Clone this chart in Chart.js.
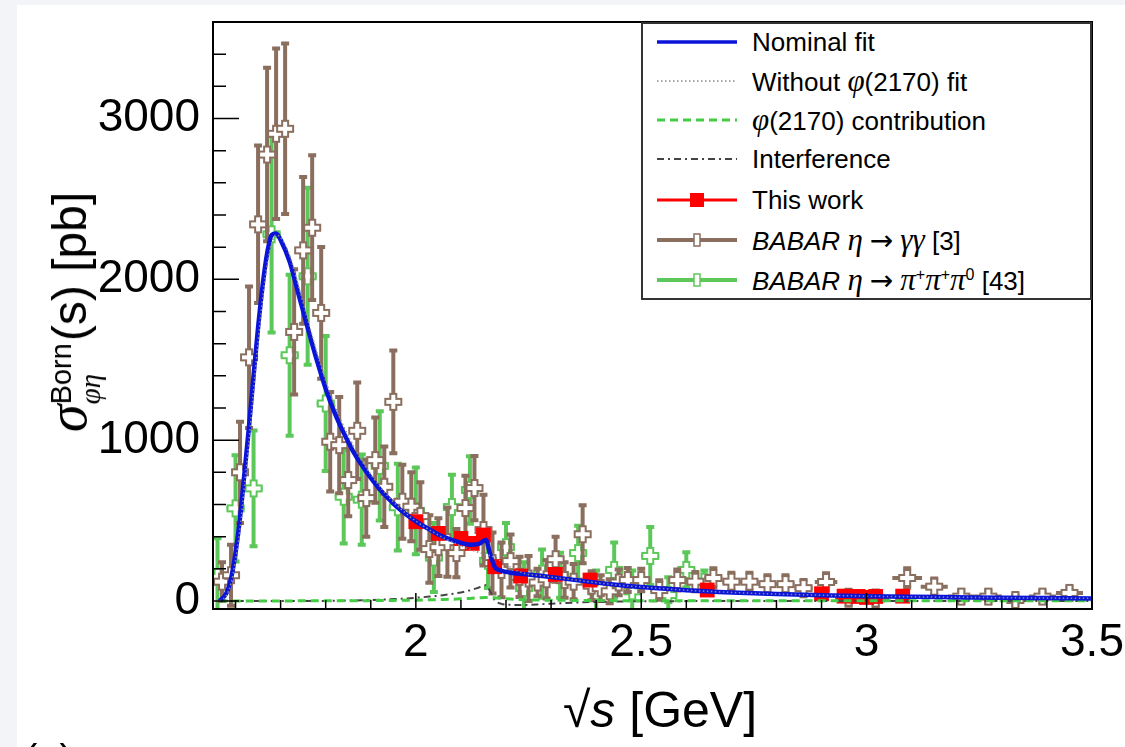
<!DOCTYPE html>
<html>
<head>
<meta charset="utf-8">
<script src="https://cdn.jsdelivr.net/npm/chart.js@4.4.1/dist/chart.umd.min.js"></script>
<style>
html, body { margin: 0; padding: 0; width: 1125px; height: 747px; overflow: hidden; background: #f3f4f7; font-family: 'Liberation Sans', Arial, sans-serif; }
#panel { position: absolute; left: 17px; top: 5px; width: 1108px; height: 742px; background: #fff; }
#chart { position: absolute; left: 0; top: 0; }
#ytitle { position: absolute; left: 70px; top: 312px; transform: translate(-50%, -50%) rotate(-90deg); white-space: nowrap; font-size: 48px; color: #000; }
#ytitle .sig { font-family: 'Liberation Serif', serif; font-style: italic; font-size: 56px; }
#ytitle .ss { display: inline-block; vertical-align: -14px; font-size: 29px; line-height: 29px; margin-right: 2px; }
#ytitle .ss span { display: block; }
#ytitle .g { font-family: 'Liberation Serif', serif; font-style: italic; }
#xtitle { position: absolute; left: 660px; top: 710px; transform: translate(-50%, -50%); white-space: nowrap; font-size: 50px; color: #000; }
#legend { position: absolute; left: 641px; top: 22px; width: 451px; height: 278px; box-sizing: border-box; border: 2px solid #333; background: #fff; }
#legend .row { position: absolute; left: 14px; height: 0; display: flex; align-items: center; white-space: nowrap; font-size: 26px; color: #000; }
#legend svg { margin-right: 15px; }
#legend .g { font-family: 'Liberation Serif', serif; font-style: italic; font-size: 31px; }
#legend .ar { font-family: 'DejaVu Sans', sans-serif; font-size: 28px; margin: 0 7px; }
#legend sup { font-size: 16px; }
#tag { position: absolute; left: 24px; top: 739px; font-size: 40px; line-height: 1; color: #000; }
</style>
</head>
<body>
<div id="panel"></div>
<canvas id="chart" width="1125" height="747"></canvas>
<div id="ytitle"><span class="sig">σ</span><span class="ss"><span>Born</span><span class="g">φη</span></span>(s) [pb]</div>
<div id="xtitle">√<i>s</i> [GeV]</div>
<div id="legend">
  <div class="row" style="top:18px"><svg width="80" height="20"><line x1="0" y1="10" x2="80" y2="10" stroke="#0a14d8" stroke-width="3.5"/></svg><span>Nominal fit</span></div>
  <div class="row" style="top:57px"><svg width="80" height="20"><line x1="0" y1="10" x2="80" y2="10" stroke="#8a8a96" stroke-width="1.5" stroke-dasharray="1.5 2.5"/></svg><span>Without <span class="g">φ</span>(2170) fit</span></div>
  <div class="row" style="top:96px"><svg width="80" height="20"><line x1="0" y1="10" x2="80" y2="10" stroke="#44cc44" stroke-width="3" stroke-dasharray="8 5"/></svg><span><span class="g">φ</span>(2170) contribution</span></div>
  <div class="row" style="top:135px"><svg width="80" height="20"><line x1="0" y1="10" x2="80" y2="10" stroke="#444" stroke-width="2" stroke-dasharray="7 4 2 4"/></svg><span>Interference</span></div>
  <div class="row" style="top:176px"><svg width="80" height="20"><line x1="0" y1="10" x2="80" y2="10" stroke="#ff0000" stroke-width="3"/><rect x="33" y="3" width="14" height="14" fill="#ff0000"/></svg><span>This work</span></div>
  <div class="row" style="top:216px"><svg width="80" height="20"><line x1="0" y1="10" x2="80" y2="10" stroke="#8a6e5e" stroke-width="4"/><rect x="37" y="4" width="6" height="12" fill="#fff" stroke="#8a6e5e" stroke-width="1.5"/></svg><span><i>BABAR</i> <span class="g">η</span><span class="ar">→</span><span class="g">γγ</span> [3]</span></div>
  <div class="row" style="top:256px"><svg width="80" height="20"><line x1="0" y1="10" x2="80" y2="10" stroke="#5dc85a" stroke-width="4"/><rect x="37" y="4" width="6" height="12" fill="#fff" stroke="#5dc85a" stroke-width="1.5"/></svg><span><i>BABAR</i> <span class="g">η</span><span class="ar">→</span><span class="g">π</span><sup>+</sup><span class="g">π</span><sup>+</sup><span class="g">π</span><sup>0</sup> [43]</span></div>
</div>
<div id="tag">(a)</div>
<script>
// axis labels
const xTickLabels = [2, 2.5, 3, 3.5];
const yTickLabels = [0, 1000, 2000, 3000];

// fit curves
const fitX = [1.565, 1.58, 1.59, 1.60, 1.61, 1.62, 1.63, 1.64, 1.65, 1.66,
  1.67, 1.68, 1.69, 1.70, 1.72, 1.74, 1.76, 1.78, 1.80, 1.82,
  1.84, 1.86, 1.88, 1.90, 1.92, 1.94, 1.96, 1.98, 2.00, 2.03,
  2.06, 2.09, 2.12, 2.14, 2.155, 2.165, 2.175, 2.19, 2.21, 2.24,
  2.28, 2.32, 2.36, 2.40, 2.45, 2.50, 2.60, 2.70, 2.80, 2.90,
  3.00, 3.10, 3.20, 3.30, 3.40, 3.50];
const nominalFit = [0, 50, 140, 300, 520, 800, 1090, 1400, 1700, 1960,
  2160, 2275, 2285, 2245, 2110, 1905, 1700, 1500, 1320, 1170,
  1045, 935, 845, 765, 695, 635, 580, 535, 495, 445,
  400, 370, 350, 355, 380, 290, 212, 188, 176, 167,
  155, 142, 128, 114, 99, 87, 67, 53, 43, 36,
  30, 26, 23, 20, 18, 16];
const withoutPhiFit = [0, 35, 110, 250, 450, 720, 1000, 1310, 1610, 1880,
  2090, 2225, 2275, 2260, 2150, 1955, 1750, 1550, 1370, 1215,
  1085, 970, 872, 787, 712, 646, 589, 540, 497, 442,
  394, 354, 320, 302, 290, 282, 272, 245, 210, 172,
  156, 142, 128, 114, 99, 87, 67, 53, 43, 36,
  30, 26, 23, 20, 18, 16];
const phiContribution = [0, 0, 0, 0, 0, 0, 0, 0, 0, 0,
  0, 0, 0, 0, 0, 1, 1, 1, 1, 1,
  2, 2, 2, 2, 3, 3, 4, 4, 5, 7,
  9, 12, 16, 20, 22, 22, 20, 16, 12, 8,
  5, 4, 3, 3, 2, 2, 2, 1, 1, 1,
  1, 1, 1, 1, 1, 1];
const interference = [0, 0, 0, 0, 0, 0, 0, 0, 0, 0,
  0, 0, 0, 0, 0, 0, 0, 0, 0, 1,
  2, 3, 4, 6, 8, 10, 13, 16, 20, 27,
  36, 48, 66, 84, 98, 60, 5, -18, -24, -25,
  -20, -14, -9, -6, -3, -2, -1, 0, 0, 0,
  0, 0, 0, 0, 0, 0];

// This work
const thisWorkX = [2.000, 2.050, 2.100, 2.125, 2.150, 2.175, 2.2324, 2.3094, 2.3864, 2.6464, 2.900, 2.950, 2.981, 3.000, 3.020, 3.080];
const thisWorkY = [493, 420, 389, 358, 410, 213, 155, 165, 130, 68, 45, 30, 28, 22, 28, 30];
const thisWorkErr = [40, 40, 35, 35, 40, 30, 25, 25, 20, 15, 12, 12, 8, 10, 10, 15];

// BABAR eta -> gamma gamma
const babarGgX = [1.57, 1.59, 1.61, 1.63, 1.65, 1.67, 1.69, 1.71, 1.73, 1.75,
  1.77, 1.79, 1.81, 1.83, 1.85, 1.87, 1.89, 1.91, 1.93, 1.95,
  1.97, 1.99, 2.01, 2.03, 2.05, 2.07, 2.09, 2.11, 2.13, 2.15,
  2.17, 2.19, 2.21, 2.23, 2.25, 2.27, 2.29, 2.31, 2.33, 2.35,
  2.37, 2.39, 2.41, 2.43, 2.45, 2.47, 2.50, 2.54, 2.58, 2.62,
  2.66, 2.70, 2.74, 2.78, 2.82, 2.86, 2.91, 2.96, 3.02, 3.09,
  3.15, 3.21, 3.27, 3.33, 3.39, 3.45];
const babarGgY = [120, 160, 800, 1515, 2342, 2776, 2905, 2936, 1673, 2180,
  2321, 1791, 990, 969, 752, 1058, 640, 876, 710, 1238,
  617, 586, 528, 323, 335, 366, 298, 578, 702, 441,
  236, 193, 248, 150, 140, 115, 135, 260, 130, 120,
  415, 95, 80, 60, 115, 130, 130, 68, 130, 120,
  143, 120, 120, 105, 105, 80, 118, 20, 15, 143,
  89, 27, 27, 6, 27, 50];
const babarGgErr = [120, 190, 315, 440, 490, 540, 530, 530, 390, 456,
  450, 410, 310, 300, 225, 300, 240, 265, 250, 320,
  230, 215, 210, 210, 180, 215, 150, 200, 200, 220,
  190, 170, 165, 125, 140, 85, 120, 140, 110, 110,
  180, 90, 80, 75, 80, 75, 70, 60, 65, 60,
  60, 55, 55, 55, 55, 50, 55, 50, 50, 60,
  50, 40, 40, 35, 35, 35];
const babarGgXErr = [0.01, 0.01, 0.01, 0.01, 0.01, 0.01, 0.01, 0.01, 0.01, 0.01,
  0.01, 0.01, 0.01, 0.01, 0.01, 0.01, 0.01, 0.01, 0.01, 0.01,
  0.01, 0.01, 0.01, 0.01, 0.01, 0.01, 0.01, 0.01, 0.01, 0.01,
  0.01, 0.01, 0.01, 0.01, 0.01, 0.01, 0.01, 0.01, 0.01, 0.01,
  0.01, 0.01, 0.01, 0.01, 0.01, 0.01, 0.02, 0.02, 0.02, 0.02,
  0.02, 0.02, 0.02, 0.02, 0.02, 0.02, 0.025, 0.03, 0.03, 0.033,
  0.03, 0.03, 0.03, 0.03, 0.03, 0.03];

// BABAR eta -> pi pi pi
const babar3piX = [1.56, 1.60, 1.64, 1.68, 1.72, 1.76, 1.80, 1.84, 1.88, 1.92,
  1.96, 2.00, 2.04, 2.08, 2.12, 2.16, 2.20, 2.24, 2.28, 2.32,
  2.36, 2.40, 2.44, 2.48, 2.52, 2.56, 2.60, 2.64];
const babar3piY = [150, 576, 700, 2280, 1528, 2019, 1228, 648, 630, 840,
  583, 560, 270, 584, 690, 250, 335, 80, 170, 160,
  298, 60, 193, 60, 280, 37, 193, 120];
const babar3piErr = [240, 330, 360, 610, 500, 550, 420, 290, 280, 340,
  270, 270, 215, 200, 210, 170, 150, 160, 150, 140,
  170, 130, 170, 130, 180, 110, 110, 70];
const babar3piXErr = 0.02;

const BLUE = '#0a14d8', BROWN = '#8a6e5e', GREEN = '#5dc85a', RED = '#ff0000';

const toPoints = (xs, ys) => xs.map((x, i) => ({ x: x, y: ys[i] }));

// open cross marker (ROOT style 28)
function openCross(color) {
  const size = 16, arm = 6, c = document.createElement('canvas');
  c.width = c.height = size + 4;
  const g = c.getContext('2d');
  const m = (size + 4) / 2, h = size / 2, w = arm / 2;
  g.beginPath();
  g.moveTo(m - w, m - h); g.lineTo(m + w, m - h); g.lineTo(m + w, m - w); g.lineTo(m + h, m - w);
  g.lineTo(m + h, m + w); g.lineTo(m + w, m + w); g.lineTo(m + w, m + h); g.lineTo(m - w, m + h);
  g.lineTo(m - w, m + w); g.lineTo(m - h, m + w); g.lineTo(m - h, m - w); g.lineTo(m - w, m - w);
  g.closePath();
  g.fillStyle = '#fff'; g.fill();
  g.strokeStyle = color; g.lineWidth = 2; g.stroke();
  return c;
}

// error bars drawn just before each data set's markers
const errorBars = {
  id: 'errorBars',
  beforeDatasetDraw(chart, args) {
    const ds = chart.data.datasets[args.index];
    if (!ds.yErr) return;
    const { ctx, chartArea: a, scales: { x, y } } = chart;
    ctx.save();
    ctx.beginPath();
    ctx.rect(a.left, a.top, a.right - a.left, a.bottom - a.top);
    ctx.clip();
    ctx.strokeStyle = ds.errColor;
    ctx.lineWidth = ds.errWidth;
    ds.data.forEach((p, i) => {
      const xe = Array.isArray(ds.xErr) ? ds.xErr[i] : ds.xErr;
      const px = x.getPixelForValue(p.x), py = y.getPixelForValue(p.y);
      const lo = y.getPixelForValue(p.y - ds.yErr[i]), hi = y.getPixelForValue(p.y + ds.yErr[i]);
      ctx.beginPath();
      ctx.moveTo(px, lo); ctx.lineTo(px, hi);
      if (xe) { ctx.moveTo(x.getPixelForValue(p.x - xe), py); ctx.lineTo(x.getPixelForValue(p.x + xe), py); }
      if (ds.capSize) {
        ctx.moveTo(px - ds.capSize, lo); ctx.lineTo(px + ds.capSize, lo);
        ctx.moveTo(px - ds.capSize, hi); ctx.lineTo(px + ds.capSize, hi);
      }
      ctx.stroke();
    });
    ctx.restore();
  }
};

// ROOT-like frame with ticks pointing inwards
const frameTicks = {
  id: 'frameTicks',
  afterDatasetsDraw(chart) {
    const { ctx, chartArea: a, scales: { x, y } } = chart;
    ctx.save();
    ctx.strokeStyle = '#000';
    ctx.lineWidth = 1.5;
    ctx.beginPath();
    for (let k = 16; k <= 35; k++) {
      const px = x.getPixelForValue(k / 10);
      const len = k % 5 === 0 ? 16 : 9;
      ctx.moveTo(px, a.bottom); ctx.lineTo(px, a.bottom - len);
    }
    for (let k = 0; k <= 17; k++) {
      const py = y.getPixelForValue(k * 200);
      const len = k % 5 === 0 ? 26 : 13;
      ctx.moveTo(a.left, py); ctx.lineTo(a.left + len, py);
    }
    ctx.stroke();
    ctx.lineWidth = 2;
    ctx.strokeRect(a.left, a.top, a.right - a.left, a.bottom - a.top);
    ctx.restore();
  }
};

const tickFont = { family: "'Liberation Sans', Arial, sans-serif", size: 46, lineHeight: 1 };

new Chart(document.getElementById('chart').getContext('2d'), {
  type: 'scatter',
  data: {
    datasets: [
      {
        label: 'BABAR eta -> pi+pi+pi0', data: toPoints(babar3piX, babar3piY), order: 6,
        yErr: babar3piErr, xErr: babar3piXErr, errColor: GREEN, errWidth: 4, capSize: 4,
        pointStyle: openCross(GREEN), pointRadius: 8
      },
      {
        label: 'BABAR eta -> gamma gamma', data: toPoints(babarGgX, babarGgY), order: 5,
        yErr: babarGgErr, xErr: babarGgXErr, errColor: BROWN, errWidth: 4, capSize: 4,
        pointStyle: openCross(BROWN), pointRadius: 8
      },
      {
        label: 'This work', data: toPoints(thisWorkX, thisWorkY), order: 4,
        yErr: thisWorkErr, xErr: 0, errColor: RED, errWidth: 4, capSize: 0,
        pointStyle: 'rect', pointRadius: 10.5, backgroundColor: RED, borderWidth: 0
      },
      {
        label: 'Interference', data: toPoints(fitX, interference), order: 3, showLine: true,
        borderColor: '#444', borderWidth: 2, borderDash: [7, 4, 2, 4], pointRadius: 0,
        cubicInterpolationMode: 'monotone'
      },
      {
        label: 'phi(2170) contribution', data: toPoints(fitX, phiContribution), order: 2, showLine: true,
        borderColor: '#44cc44', borderWidth: 3, borderDash: [8, 5], pointRadius: 0,
        cubicInterpolationMode: 'monotone'
      },
      {
        label: 'Nominal fit', data: toPoints(fitX, nominalFit), order: 1, showLine: true,
        borderColor: BLUE, borderWidth: 4.5, pointRadius: 0,
        cubicInterpolationMode: 'monotone'
      },
      {
        label: 'Without phi(2170) fit', data: toPoints(fitX, withoutPhiFit), order: 0, showLine: true,
        borderColor: '#8a8a96', borderWidth: 1.5, borderDash: [1.5, 2.5], pointRadius: 0,
        cubicInterpolationMode: 'monotone'
      }
    ]
  },
  options: {
    responsive: false,
    animation: false,
    events: [],
    layout: { padding: { left: 0, top: 22, right: 33, bottom: 0 } },
    plugins: { legend: { display: false }, tooltip: { enabled: false } },
    scales: {
      x: {
        type: 'linear', min: 1.55, max: 3.5,
        afterBuildTicks: s => { s.ticks = xTickLabels.map(v => ({ value: v })); },
        afterFit: s => { s.height = 138; s.paddingLeft = 0; s.paddingRight = 0; },
        grid: { display: false, drawTicks: false },
        border: { display: false },
        ticks: { padding: 11, color: '#000', font: tickFont, maxRotation: 0, autoSkip: false, callback: v => String(v) }
      },
      y: {
        type: 'linear', min: -50, max: 3600,
        afterBuildTicks: s => { s.ticks = yTickLabels.map(v => ({ value: v })); },
        afterFit: s => { s.width = 213; s.paddingTop = 0; s.paddingBottom = 0; },
        grid: { display: false, drawTicks: false },
        border: { display: false },
        ticks: { padding: 13, color: '#000', font: tickFont, autoSkip: false, callback: v => String(v) }
      }
    }
  },
  plugins: [errorBars, frameTicks]
});
</script>
</body>
</html>
